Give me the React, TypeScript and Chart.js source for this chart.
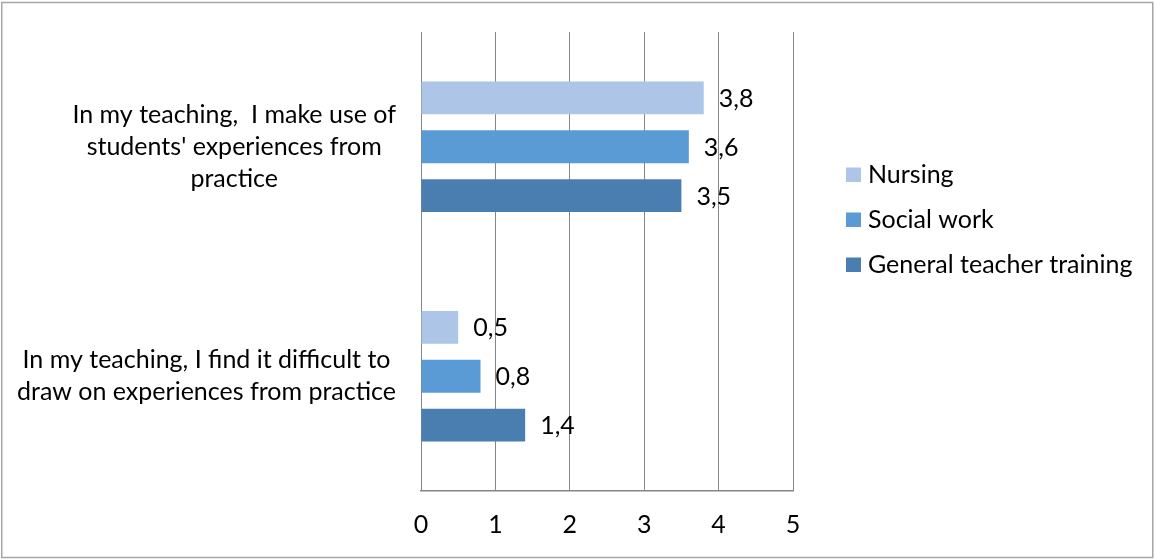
import { useEffect, useRef } from "react";
import { Chart, registerables } from "chart.js";

Chart.register(...registerables);

const categories: string[][] = [
  ["In my teaching,  I make use of", "students' experiences from", "practice"],
  ["In my teaching, I find it difficult to", "draw on experiences from practice"],
];
const seriesNames = ["Nursing", "Social work", "General teacher training"];
const nursing = [3.8, 0.5];
const socialWork = [3.6, 0.8];
const generalTeacher = [3.5, 1.4];
const xMin = 0;
const xMax = 5;
const xStep = 1;
const seriesColors = ["#adc5e7", "#5b9bd5", "#4a7eb0"];

const FONT_FAMILY = "Lato";
const FONT_SIZE = 25;
const TEXT_COLOR = "#000000";
const GRID_COLOR = "#868686";

const fmt = (v: number) => String(v).replace(".", ",");

const decorPlugin = {
  id: "decor",
  afterDraw(chart: any) {
    const ctx = chart.ctx as CanvasRenderingContext2D;
    const area = chart.chartArea;
    ctx.save();
    ctx.font = `${FONT_SIZE}px ${FONT_FAMILY}`;
    ctx.fillStyle = TEXT_COLOR;

    // category labels (lines centered inside block, block right-aligned)
    const yScale = chart.scales.y;
    const lineH = 32;
    const labels = chart.data.labels as string[][];
    labels.forEach((lines, i) => {
      const cy = yScale.getPixelForTick(i);
      const widest = Math.max(...lines.map((l) => ctx.measureText(l).width));
      const cx = area.left - 25 - widest / 2;
      ctx.textAlign = "center";
      ctx.textBaseline = "middle";
      const start = cy - ((lines.length - 1) * lineH) / 2;
      lines.forEach((l, k) => ctx.fillText(l, cx, start + k * lineH));
    });

    // data labels
    ctx.textAlign = "left";
    ctx.textBaseline = "middle";
    chart.data.datasets.forEach((ds: any, di: number) => {
      const meta = chart.getDatasetMeta(di);
      meta.data.forEach((bar: any, j: number) => {
        ctx.fillText(fmt(ds.data[j]), bar.x + 15, bar.y + 1);
      });
    });

    // legend
    const legendX = area.right + 53;
    const legendYs = [174.5, 219.5, 264.5];
    chart.data.datasets.forEach((ds: any, di: number) => {
      const y = legendYs[di];
      ctx.fillStyle = ds.backgroundColor;
      ctx.fillRect(legendX, y - 7, 15, 14.5);
      ctx.fillStyle = TEXT_COLOR;
      ctx.fillText(ds.label, legendX + 22, y);
    });

    // outer frame
    ctx.strokeStyle = "#a6a6a6";
    ctx.lineWidth = 1.5;
    ctx.strokeRect(1.75, 2.5, 1151, 555);
    ctx.restore();
  },
};

export default function App() {
  const ref = useRef<HTMLCanvasElement | null>(null);
  useEffect(() => {
    if (!ref.current) return;
    const chart = new Chart(ref.current, {
      type: "bar",
      data: {
        labels: categories as any,
        datasets: [
          { label: seriesNames[0], data: nursing, backgroundColor: seriesColors[0] },
          { label: seriesNames[1], data: socialWork, backgroundColor: seriesColors[1] },
          { label: seriesNames[2], data: generalTeacher, backgroundColor: seriesColors[2] },
        ],
      },
      options: {
        indexAxis: "y",
        responsive: false,
        animation: false,
        devicePixelRatio: 1,
        layout: { padding: { left: 421, right: 361, top: 32, bottom: 0 } },
        datasets: { bar: { categoryPercentage: 0.64, barPercentage: 0.67, borderWidth: 0 } },
        plugins: { legend: { display: false }, tooltip: { enabled: false } },
        scales: {
          x: {
            min: xMin,
            max: xMax,
            ticks: {
              stepSize: xStep,
              color: TEXT_COLOR,
              font: { family: FONT_FAMILY, size: FONT_SIZE },
              padding: 19,
            },
            grid: { color: GRID_COLOR, drawTicks: false, lineWidth: 1 },
            border: { color: GRID_COLOR, width: 1.5 },
            afterFit: (s: any) => {
              s.height = 68;
            },
          },
          y: {
            display: false,
            grid: { display: false },
          },
        },
      },
      plugins: [decorPlugin],
    });
    return () => chart.destroy();
  }, []);
  return (
    <div style={{ position: "absolute", left: 0, top: 0, width: 1154, height: 559, background: "#fff" }}>
      <canvas ref={ref} width={1154} height={559} style={{ display: "block" }} />
    </div>
  );
}
